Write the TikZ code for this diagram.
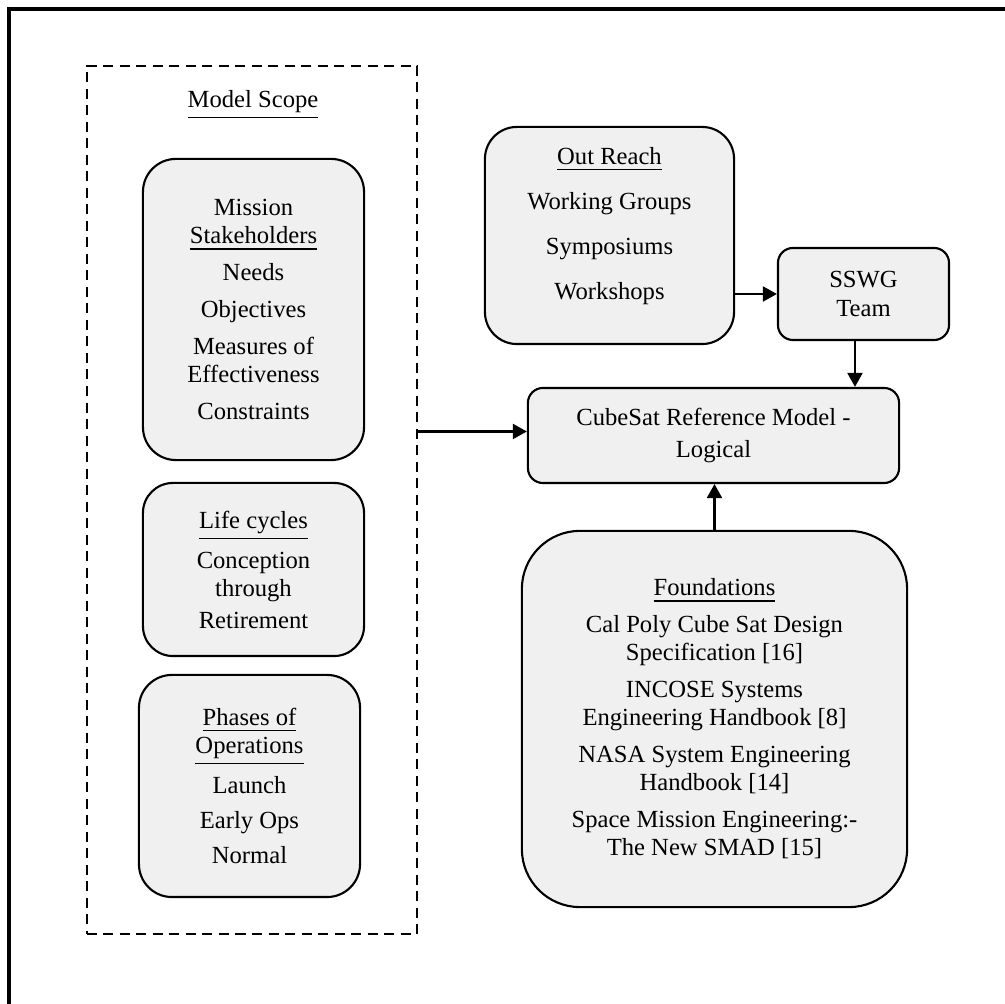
\documentclass[tikz,border=0pt]{standalone}
\usepackage{fontspec}
\setmainfont{Liberation Serif}
\usepackage{xcolor}
\usepackage{tikz}
\usetikzlibrary{arrows.meta, positioning}
\definecolor{boxgray}{RGB}{240,240,240}

\begin{document}
\begin{tikzpicture}[x=0.01cm, y=-0.01cm,
    txt/.style={font=\fontsize{7}{8}\selectfont, align=center, inner sep=0pt},
    roundbox/.style={txt, draw, line width=0.6pt, fill=boxgray},
    arr/.style={line width=0.6pt, -{Triangle[length=0.14cm, width=0.15cm]}}]
    \useasboundingbox (0,0) rectangle (1005,1004);
    % frame
    \draw[line width=0.9pt] (9,1004) -- (9,9) -- (1005,9);

    % model scope
    \node[draw, dashed, dash pattern=on 0.1cm off 0.065cm, line width=0.6pt, minimum width=3.30cm, minimum height=8.68cm] (scope) at (252,500) {};
    \node[txt] (scopetitle) at (253,105) {\underline{Model Scope}};
    \node[roundbox, minimum width=2.21cm, minimum height=3.01cm, rounded corners=0.33cm] (mission) at (253.5,309.5)
        {Mission\\\underline{Stakeholders}\\[2.5pt]Needs\\[2.5pt]Objectives\\[2.5pt]Measures of\\Effectiveness\\[2.5pt]Constraints};
    \node[roundbox, minimum width=2.21cm, minimum height=1.73cm, rounded corners=0.3cm] (life) at (253.5,569.5)
        {\underline{Life cycles}\\[2.3pt]Conception\\through\\[1pt]Retirement};
    \node[roundbox, minimum width=2.21cm, minimum height=2.22cm, rounded corners=0.33cm] (phases) at (249.5,786)
        {\underline{Phases of}\\\underline{Operations}\\[2pt]Launch\\[2pt]Early Ops\\[2pt]Normal};

    % right side
    \node[roundbox, minimum width=2.49cm, minimum height=2.17cm, rounded corners=0.32cm, text depth=0.24cm] (outreach) at (609.5,235.5)
        {\underline{Out Reach}\\[4.8pt]Working Groups\\[4.8pt]Symposiums\\[4.8pt]Workshops};
    \node[roundbox, minimum width=1.71cm, minimum height=0.92cm, rounded corners=0.15cm] (sswg) at (863.5,294) {SSWG\\Team};
    \node[roundbox, minimum width=3.71cm, minimum height=0.95cm, rounded corners=0.15cm] (cubesat) at (713.5,435.5)
        {CubeSat Reference Model -\\[1pt]Logical};
    \node[roundbox, minimum width=3.85cm, minimum height=3.76cm, rounded corners=0.58cm] (found) at (714.5,719)
        {\underline{Foundations}\\[2.5pt]Cal Poly Cube Sat Design\\Specification [16]\\[2.5pt]INCOSE Systems\\Engineering Handbook [8]\\[2.5pt]NASA System Engineering\\Handbook [14]\\[2.5pt]Space Mission Engineering:-\\The New SMAD [15]};

    % arrows
    \draw[arr] ([yshift=0.04cm]scope.east |- cubesat.west) -- ([yshift=0.04cm]cubesat.west);
    \draw[arr] (outreach.east |- sswg.west) -- (sswg.west);
    \draw[arr] ([xshift=-0.085cm]sswg.south) -- ([xshift=-0.085cm]sswg.south |- cubesat.north);
    \draw[arr] (found.north) -- (found.north |- cubesat.south);
\end{tikzpicture}
\end{document}
